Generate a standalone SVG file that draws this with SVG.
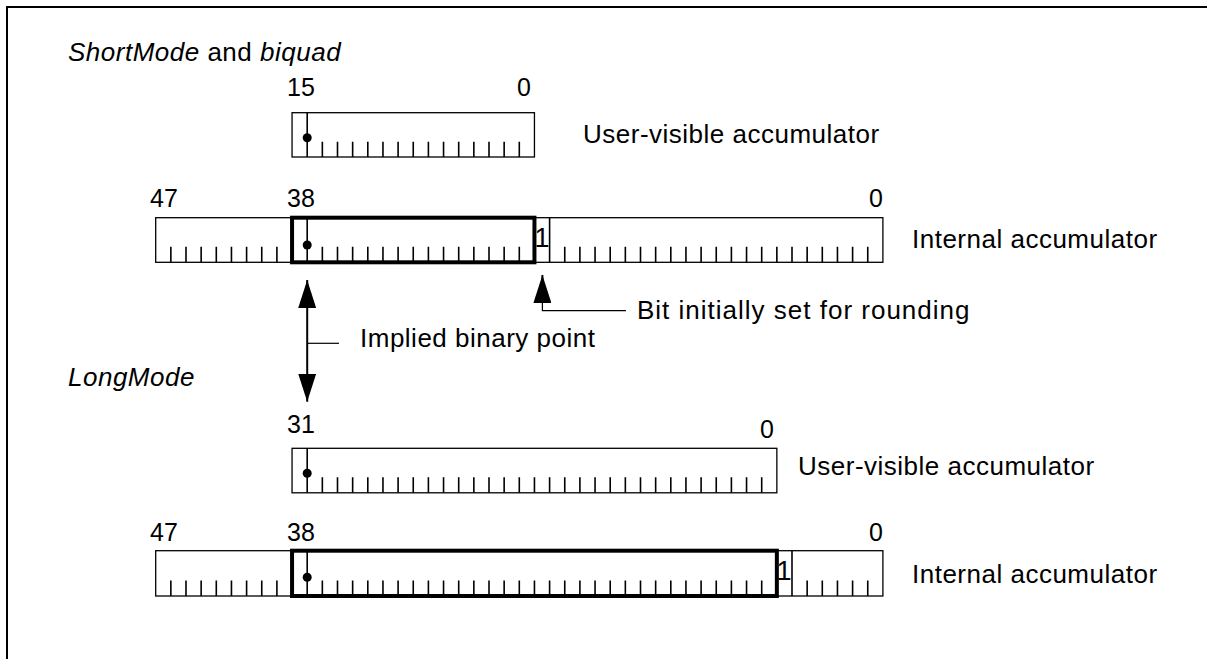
<svg xmlns="http://www.w3.org/2000/svg" width="1207" height="659" viewBox="0 0 1207 659">
<style>
text{font-family:"Liberation Sans",Arial,sans-serif;font-size:26px;fill:#000}
.lbl{letter-spacing:0.5px}
.num{font-size:25px}
.one{font-size:27px}
.it{font-style:italic}
.box{fill:none;stroke:#000;stroke-width:1.3}
.thick{fill:none;stroke:#000;stroke-width:4}
.tick{stroke:#000;stroke-width:1.6}
.lead{stroke:#000;stroke-width:1.2;fill:none}
.arr{stroke:#000;stroke-width:2;fill:none}
.dot{fill:#000}
</style>
<defs>
<marker id="ah" viewBox="0 0 28 18" refX="28" refY="9" markerWidth="28" markerHeight="18" markerUnits="userSpaceOnUse" orient="auto-start-reverse">
<path d="M0,0 L28,9 L0,18 z" fill="#000"/>
</marker>
</defs>
<rect x="7" y="7" width="1215" height="670" fill="none" stroke="#000" stroke-width="2"/>

<g id="title-short"><text class="it lbl" x="68" y="61">ShortMode<tspan font-style="normal"> and </tspan>biquad</text></g>
<g id="title-long"><text class="it lbl" x="68" y="386">LongMode</text></g>

<g id="short-user">
<text class="num" x="287" y="96">15</text>
<text class="num" x="517" y="96">0</text>
<rect class="box" x="292.05" y="112.7" width="242.4" height="44.3"/>
<line class="tick" x1="307.2" y1="112.7" x2="307.2" y2="157"/>
<circle class="dot" cx="307.2" cy="137.7" r="4.5"/>
<path class="tick" d="M322.35,141.7V157M337.5,141.7V157M352.65,141.7V157M367.8,141.7V157M382.95,141.7V157M398.1,141.7V157M413.25,141.7V157M428.4,141.7V157M443.55,141.7V157M458.7,141.7V157M473.85,141.7V157M489,141.7V157M504.15,141.7V157M519.3,141.7V157"/>
<text class="lbl" x="583" y="143">User-visible accumulator</text>
</g>

<g id="short-internal">
<text class="num" x="150" y="207">47</text>
<text class="num" x="287" y="207">38</text>
<text class="num" x="869" y="207">0</text>
<rect class="box" x="155.7" y="217.7" width="727.2" height="44.6"/>
<path class="tick" d="M170.85,246.7V262.3M186,246.7V262.3M201.15,246.7V262.3M216.3,246.7V262.3M231.45,246.7V262.3M246.6,246.7V262.3M261.75,246.7V262.3M276.9,246.7V262.3"/>
<line class="tick" x1="307.2" y1="217.7" x2="307.2" y2="262.3"/>
<circle class="dot" cx="307.2" cy="245" r="4.5"/>
<path class="tick" d="M322.35,246.7V262.3M337.5,246.7V262.3M352.65,246.7V262.3M367.8,246.7V262.3M382.95,246.7V262.3M398.1,246.7V262.3M413.25,246.7V262.3M428.4,246.7V262.3M443.55,246.7V262.3M458.7,246.7V262.3M473.85,246.7V262.3M489,246.7V262.3M504.15,246.7V262.3M519.3,246.7V262.3"/>
<rect class="thick" x="292.05" y="217.7" width="242.4" height="44.6"/>
<text class="one" x="542" y="246.7" text-anchor="middle">1</text>
<line class="tick" x1="549.6" y1="217.7" x2="549.6" y2="262.3"/>
<path class="tick" d="M564.75,246.7V262.3M579.9,246.7V262.3M595.05,246.7V262.3M610.2,246.7V262.3M625.35,246.7V262.3M640.5,246.7V262.3M655.65,246.7V262.3M670.8,246.7V262.3M685.95,246.7V262.3M701.1,246.7V262.3M716.25,246.7V262.3M731.4,246.7V262.3M746.55,246.7V262.3M761.7,246.7V262.3M776.85,246.7V262.3M792,246.7V262.3M807.15,246.7V262.3M822.3,246.7V262.3M837.45,246.7V262.3M852.6,246.7V262.3M867.75,246.7V262.3"/>
<text class="lbl" x="912" y="248">Internal accumulator</text>
</g>

<g id="long-user">
<text class="num" x="287" y="433">31</text>
<text class="num" x="760" y="438">0</text>
<rect class="box" x="292.05" y="448.3" width="484.8" height="44.5"/>
<line class="tick" x1="307.2" y1="448.3" x2="307.2" y2="492.8"/>
<circle class="dot" cx="307.2" cy="473.3" r="4.5"/>
<path class="tick" d="M322.35,477.3V492.8M337.5,477.3V492.8M352.65,477.3V492.8M367.8,477.3V492.8M382.95,477.3V492.8M398.1,477.3V492.8M413.25,477.3V492.8M428.4,477.3V492.8M443.55,477.3V492.8M458.7,477.3V492.8M473.85,477.3V492.8M489,477.3V492.8M504.15,477.3V492.8M519.3,477.3V492.8M534.45,477.3V492.8M549.6,477.3V492.8M564.75,477.3V492.8M579.9,477.3V492.8M595.05,477.3V492.8M610.2,477.3V492.8M625.35,477.3V492.8M640.5,477.3V492.8M655.65,477.3V492.8M670.8,477.3V492.8M685.95,477.3V492.8M701.1,477.3V492.8M716.25,477.3V492.8M731.4,477.3V492.8M746.55,477.3V492.8M761.7,477.3V492.8"/>
<text class="lbl" x="798" y="475">User-visible accumulator</text>
</g>

<g id="long-internal">
<text class="num" x="150" y="541">47</text>
<text class="num" x="287" y="541">38</text>
<text class="num" x="869" y="541">0</text>
<rect class="box" x="155.7" y="550.7" width="727.2" height="45.3"/>
<path class="tick" d="M170.85,580.4V596M186,580.4V596M201.15,580.4V596M216.3,580.4V596M231.45,580.4V596M246.6,580.4V596M261.75,580.4V596M276.9,580.4V596"/>
<line class="tick" x1="307.2" y1="550.7" x2="307.2" y2="596"/>
<circle class="dot" cx="307.2" cy="577.3" r="4.5"/>
<path class="tick" d="M322.35,580.4V596M337.5,580.4V596M352.65,580.4V596M367.8,580.4V596M382.95,580.4V596M398.1,580.4V596M413.25,580.4V596M428.4,580.4V596M443.55,580.4V596M458.7,580.4V596M473.85,580.4V596M489,580.4V596M504.15,580.4V596M519.3,580.4V596M534.45,580.4V596M549.6,580.4V596M564.75,580.4V596M579.9,580.4V596M595.05,580.4V596M610.2,580.4V596M625.35,580.4V596M640.5,580.4V596M655.65,580.4V596M670.8,580.4V596M685.95,580.4V596M701.1,580.4V596M716.25,580.4V596M731.4,580.4V596M746.55,580.4V596M761.7,580.4V596"/>
<rect class="thick" x="292.05" y="550.7" width="484.8" height="45.3"/>
<text class="one" x="784" y="580" text-anchor="middle">1</text>
<line class="tick" x1="792" y1="550.7" x2="792" y2="596"/>
<path class="tick" d="M807.15,580.4V596M822.3,580.4V596M837.45,580.4V596M852.6,580.4V596M867.75,580.4V596"/>
<text class="lbl" x="912" y="583">Internal accumulator</text>
</g>

<g id="labels">
<text class="lbl" x="360" y="347">Implied binary point</text>
<text x="637" y="319" letter-spacing="1">Bit initially set for rounding</text>
</g>

<g id="connectors">
<line class="arr" x1="307.2" y1="280" x2="307.2" y2="401.7" marker-start="url(#ah)" marker-end="url(#ah)"/>
<line class="lead" x1="307.2" y1="343.3" x2="339" y2="343.3"/>
<path class="lead" d="M626,310.7H542.4V300"/>
<line class="arr" x1="542.4" y1="303" x2="542.4" y2="275" marker-end="url(#ah)"/>
</g>
</svg>
